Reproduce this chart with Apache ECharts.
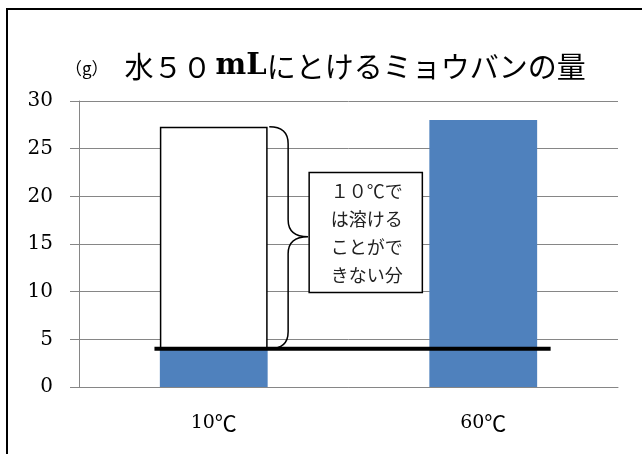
<!DOCTYPE html>
<html>
<head>
<meta charset="utf-8">
<script src="https://cdn.jsdelivr.net/npm/echarts@6/dist/echarts.min.js"></script>
<style>
    html, body { margin: 0; padding: 0; background: #fff; }
    #chart { width: 642px; height: 454px; }
</style>
</head>
<body>
<div id="chart"></div>
<script>
// 水50mLにとけるミョウバンの量
let categories = ['10', '60'];
let unit = '℃';
let dissolved = [4, 28];          // とけた量 (g)
let undissolved = [23.3, '-'];    // 10℃ではとけきれない分
let lineLevel = 4;                // 10℃でとける量の線
let lineRange = [0.28, 1.75];     // 線の横の範囲 (カテゴリ単位)
let yTicks = [0, 30, 5];          // min, max, interval
let noteText = '１０℃で\nは溶ける\nことがで\nきない分';

let blue = '#4F81BD';
let gridColor = '#868686';
let serif = "'DejaVu Serif', 'Noto Sans CJK JP'";
let jp = "'Noto Sans CJK JP'";

let chart = echarts.init(document.getElementById('chart'));

function braceItem(params, api) {
    let top = dissolved[0] + undissolved[0];
    let bottom = dissolved[0];
    let mid = api.value(0);
    let a = api.coord([0.706, top]);
    let b = api.coord([0.706, bottom]);
    let v = api.coord([0.776, mid]);
    let t = api.coord([0.85, mid]);
    let xs = a[0], xv = v[0], xt = t[0];
    let yt = a[1], yb = b[1], ym = v[1];
    let r = 17;
    let d = 'M' + xs + ' ' + yt +
        ' Q' + xv + ' ' + yt + ' ' + xv + ' ' + (yt + r) +
        ' L' + xv + ' ' + (ym - r) +
        ' Q' + xv + ' ' + ym + ' ' + xt + ' ' + ym +
        ' Q' + xv + ' ' + ym + ' ' + xv + ' ' + (ym + r) +
        ' L' + xv + ' ' + (yb - r) +
        ' Q' + xv + ' ' + yb + ' ' + xs + ' ' + yb;
    // 注釈の箱
    let p1 = api.coord([0.854, 22.5]);
    let p2 = api.coord([1.274, 9.9]);
    return {
        type: 'group',
        children: [
            {
                type: 'path',
                shape: { pathData: d },
                style: { fill: 'none', stroke: '#000', lineWidth: 1.5 }
            },
            {
                type: 'rect',
                shape: { x: p1[0], y: p1[1], width: p2[0] - p1[0], height: p2[1] - p1[1] },
                style: { fill: '#fff', stroke: '#000', lineWidth: 1.5 }
            },
            {
                type: 'text',
                style: {
                    text: noteText,
                    x: (p1[0] + p2[0]) / 2 + 1,
                    y: (p1[1] + p2[1]) / 2 + 1,
                    align: 'center',
                    verticalAlign: 'middle',
                    fontSize: 18,
                    fontFamily: jp,
                    lineHeight: 28,
                    fill: '#222'
                }
            }
        ]
    };
}

let option = {
    backgroundColor: '#fff',
    animation: false,
    title: {
        text: '{u|（g）}{m|水５０}{b|mL}{m|にとけるミョウバンの量}',
        left: 60,
        top: 47,
        textStyle: {
            fontWeight: 'normal',
            rich: {
                u: { fontSize: 17, fontFamily: jp, fontWeight: 'normal', color: '#000', padding: [4, 16, 0, 0] },
                m: { fontSize: 29, fontFamily: jp, fontWeight: 'normal', color: '#000' },
                b: { fontSize: 29, fontFamily: "'DejaVu Serif'", fontWeight: 'bold', color: '#000', padding: [0, 0, 0, 4] }
            }
        }
    },
    graphic: [
        {
            type: 'rect',
            shape: { x: 7, y: 9, width: 700, height: 500 },
            style: { fill: 'none', stroke: '#000', lineWidth: 2 },
            z: 100
        }
    ],
    grid: {
        left: 79,
        right: 24,
        top: 101,
        bottom: 67
    },
    xAxis: [
        {
            type: 'category',
            data: categories,
            axisLine: { lineStyle: { color: gridColor, width: 1 } },
            axisTick: { length: 9, lineStyle: { color: gridColor } },
            axisLabel: {
                margin: 25,
                formatter: function (v) {
                    return '{n|' + v + '}{c|' + unit + '}';
                },
                rich: {
                    n: { color: '#000', fontSize: 19, fontFamily: serif },
                    c: { color: '#000', fontSize: 22, fontFamily: jp }
                }
            }
        },
        {
            type: 'value',
            min: 0,
            max: categories.length,
            show: false
        }
    ],
    yAxis: {
        type: 'value',
        min: yTicks[0],
        max: yTicks[1],
        interval: yTicks[2],
        axisLine: { show: true, lineStyle: { color: gridColor, width: 1 } },
        axisTick: { show: true, length: 9, lineStyle: { color: gridColor } },
        axisLabel: {
            margin: 26,
            formatter: function (v) {
                return '{n|' + v + '}';
            },
            rich: {
                n: { color: '#000', fontSize: 20, fontFamily: serif }
            }
        },
        splitLine: { lineStyle: { color: gridColor, width: 1 } }
    },
    series: [
        {
            name: 'とけた量',
            type: 'bar',
            stack: 'g',
            barWidth: '40%',
            data: dissolved,
            itemStyle: { color: blue }
        },
        {
            name: 'とけきれない分',
            type: 'bar',
            stack: 'g',
            barWidth: '40%',
            data: undissolved,
            itemStyle: { color: '#fff', borderColor: '#000', borderWidth: 1.5 }
        },
        {
            name: '10℃の線',
            type: 'line',
            xAxisIndex: 1,
            data: lineRange.map(function (x) {
                return [x, lineLevel];
            }),
            symbol: 'none',
            lineStyle: { color: '#000', width: 4 },
            z: 10
        },
        {
            name: '注釈',
            type: 'custom',
            xAxisIndex: 1,
            renderItem: braceItem,
            data: [[15.77]],
            z: 5
        }
    ]
};
chart.setOption(option);
</script>
</body>
</html>
